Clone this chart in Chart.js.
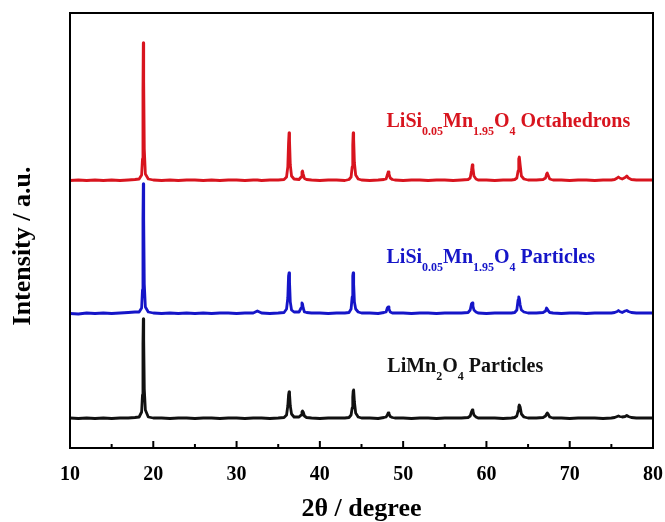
<!DOCTYPE html>
<html>
<head>
<meta charset="utf-8">
<script src="https://cdn.jsdelivr.net/npm/chart.js@4/dist/chart.umd.min.js"></script>
<style>
  body { margin: 0; background: #fff; }
</style>
</head>
<body>
<canvas id="xrdChart" width="665" height="522"></canvas>
<script>
// 2θ sample positions (shared by the three patterns)
const twoTheta = [
  10, 11, 12, 13, 14, 15, 16, 17, 17.8,
  18.3, 18.6, 18.7, 18.76, 18.8, 18.85, 18.92, 19.05, 19.4,
  20, 21, 22, 23, 24, 25, 26, 27, 28, 29, 30, 31, 32, 32.5, 33, 34, 35, 35.7,
  36.0, 36.15, 36.24, 36.3, 36.36, 36.45, 36.6, 36.9,
  37.5, 37.75, 37.85, 37.92, 38.0, 38.15, 38.4,
  39, 40, 41, 42, 43, 43.5,
  43.75, 43.88, 43.95, 44.0, 44.06, 44.15, 44.3, 44.6,
  45, 46, 47, 47.7,
  47.95, 48.1, 48.2, 48.3, 48.45, 48.7,
  49, 50, 51, 52, 53, 54, 55, 56, 57, 57.8,
  58.05, 58.2, 58.3, 58.38, 58.5, 58.75,
  59, 60, 61, 62, 63, 63.4,
  63.65, 63.8, 63.88, 63.95, 64.05, 64.2, 64.5,
  65, 66, 66.8,
  67.1, 67.22, 67.3, 67.4, 67.6,
  68, 69, 70, 71, 72, 73, 74, 75, 75.4,
  75.7, 75.85, 76.0, 76.3,
  76.65, 76.85, 77.05, 77.4,
  78, 79, 80
];

// intensities (a.u.)
const octahedronsI = [
  0.5, 1, 0.5, 1, 0.5, 1, 0.5, 1, 1.5,
  2, 6, 22, 90, 138, 100, 32, 7, 2,
  1, 0.5, 1, 0.5, 1, 1, 0.5, 1, 0.5, 1, 1, 0.5, 1, 1, 0.5, 1, 1, 1.5,
  4, 14, 38, 48, 40, 16, 5, 2,
  1.5, 4, 9, 10, 7, 2.5, 1.5,
  1, 0.5, 1, 1, 0.5, 1.5,
  4, 14, 36, 48, 42, 18, 6, 2,
  1, 0.5, 1, 1.5,
  2, 6, 9, 7, 3, 1.5,
  1, 0.5, 1, 1, 0.5, 1, 1, 0.5, 1, 1.5,
  3, 10, 16, 13, 5, 2,
  1, 1, 0.5, 1, 1, 1.5,
  3, 10, 22, 24, 16, 5, 2,
  1, 1, 1.5,
  3, 7, 8, 6, 2,
  1, 1, 0.5, 1, 1, 0.5, 1, 1, 1.5,
  3, 4, 3, 2,
  3.5, 5, 3, 1.5,
  1, 1, 1
];

const siParticlesI = [
  0.5, 0, 1, 0.5, 1, 0.5, 1, 1.5, 2,
  2, 6, 24, 95, 130, 95, 30, 7, 2,
  1, 0.5, 1, 0.5, 1, 0.5, 1, 0.5, 1, 1, 0.5, 1, 1, 3, 1, 0.5, 1, 1.5,
  5, 16, 38, 41, 32, 12, 4, 2,
  2, 6, 11, 10, 6, 2, 1.5,
  1, 1, 0.5, 1, 1, 1.5,
  5, 17, 38, 41, 30, 12, 5, 2,
  1, 1, 0.5, 1.5,
  2, 6, 7, 5, 2, 1,
  1, 1, 0.5, 1, 1, 0.5, 1, 1, 1, 1.5,
  4, 10, 11, 8, 4, 2,
  1, 0.5, 1, 1, 1, 1.5,
  4, 14, 17, 15, 9, 4, 2,
  1, 1, 1.5,
  3, 6, 5, 3.5, 1.5,
  1, 0.5, 1, 1, 0.5, 1, 1, 1, 1.5,
  2.5, 3.5, 2.5, 1.5,
  3, 3.5, 2.5, 1.5,
  1, 1, 1
];

const limn2o4I = [
  1, 0.5, 1, 0.5, 1, 0.5, 1, 1, 1.5,
  2, 7, 24, 75, 100, 80, 30, 9, 2,
  1, 1, 0.5, 1, 1, 0.5, 1, 1, 0.5, 1, 1, 0.5, 1, 1, 1, 0.5, 1, 1.5,
  4, 13, 24, 27, 25, 13, 5, 2,
  2, 4, 7, 8, 7, 3, 1.5,
  1, 0.5, 1, 1, 1, 1.5,
  4, 11, 22, 28, 29, 17, 6, 2,
  1, 1, 0.5, 1.5,
  2, 4, 6, 5, 2.5, 1.5,
  1, 1, 0.5, 1, 1, 0.5, 1, 1, 1, 1.5,
  3, 7, 9, 8, 4, 2,
  1, 1, 1, 0.5, 1, 1.5,
  3, 8, 12, 14, 12, 5, 2,
  1, 1, 1.5,
  3, 5, 6, 5, 2,
  1, 1, 0.5, 1, 1, 1, 0.5, 1, 1.5,
  2.5, 3, 2.5, 2,
  2.5, 3.5, 2.5, 1.5,
  1, 1, 1
];

// vertical stacking offsets: red, blue, black
const seriesOffsets = [267, 134, 29];
const seriesColors = ["#d8141e", "#1515c8", "#111111"];
const xTicksMajor = [10, 20, 30, 40, 50, 60, 70, 80];
const xTicksMinor = [15, 25, 35, 45, 55, 65, 75];

// in-plot labels: [2θ, y], and text pieces (sub = subscript)
const labelPositions = [[48, 321], [48, 185], [48.1, 76]];
const labelTexts = [
  [["LiSi"], ["0.05", 1], ["Mn"], ["1.95", 1], ["O"], ["4", 1], [" Octahedrons"]],
  [["LiSi"], ["0.05", 1], ["Mn"], ["1.95", 1], ["O"], ["4", 1], [" Particles"]],
  [["LiMn"], ["2", 1], ["O"], ["4", 1], [" Particles"]]
];

const serif = "'Liberation Serif', 'Times New Roman', serif";

function toPoints(values, offset) {
  return twoTheta.map((t, i) => ({ x: t, y: values[i] + offset }));
}

const framePlugin = {
  id: "frame",
  afterDraw(chart) {
    const ctx = chart.ctx;
    const area = chart.chartArea;
    const xs = chart.scales.x;
    const ys = chart.scales.y;
    ctx.save();
    ctx.strokeStyle = "#000";
    ctx.lineWidth = 2;
    ctx.strokeRect(area.left, area.top, area.right - area.left, area.bottom - area.top);

    // inward ticks on the bottom axis
    xTicksMajor.forEach((v) => {
      const px = xs.getPixelForValue(v);
      ctx.beginPath();
      ctx.moveTo(px, area.bottom);
      ctx.lineTo(px, area.bottom - 7);
      ctx.stroke();
    });
    xTicksMinor.forEach((v) => {
      const px = xs.getPixelForValue(v);
      ctx.beginPath();
      ctx.moveTo(px, area.bottom);
      ctx.lineTo(px, area.bottom - 4);
      ctx.stroke();
    });

    // y title
    ctx.fillStyle = "#000";
    ctx.font = "bold 26px " + serif;
    ctx.textAlign = "center";
    ctx.textBaseline = "middle";
    ctx.translate(23, 246);
    ctx.rotate(-Math.PI / 2);
    ctx.fillText("Intensity / a.u.", 0, 0);
    ctx.restore();

    // series labels
    ctx.save();
    ctx.textBaseline = "alphabetic";
    ctx.textAlign = "left";
    labelTexts.forEach((parts, i) => {
      let px = xs.getPixelForValue(labelPositions[i][0]);
      const py = ys.getPixelForValue(labelPositions[i][1]);
      ctx.fillStyle = seriesColors[i];
      parts.forEach(([txt, sub]) => {
        ctx.font = sub ? "bold 12px " + serif : "bold 20px " + serif;
        ctx.fillText(txt, px, sub ? py + 8 : py);
        px += ctx.measureText(txt).width;
      });
    });
    ctx.restore();
  }
};

const ctx = document.getElementById("xrdChart").getContext("2d");
new Chart(ctx, {
  type: "line",
  data: {
    datasets: [
      { label: "LiSi0.05Mn1.95O4 Octahedrons", data: toPoints(octahedronsI, seriesOffsets[0]) },
      { label: "LiSi0.05Mn1.95O4 Particles", data: toPoints(siParticlesI, seriesOffsets[1]) },
      { label: "LiMn2O4 Particles", data: toPoints(limn2o4I, seriesOffsets[2]) }
    ].map((ds, i) => ({
      ...ds,
      borderColor: seriesColors[i],
      borderWidth: 2.8,
      pointRadius: 0,
      tension: 0,
      borderJoinStyle: "round",
      fill: false
    }))
  },
  plugins: [framePlugin],
  options: {
    responsive: false,
    animation: false,
    devicePixelRatio: 1,
    layout: { padding: { top: 13, right: 12, left: 0, bottom: 0 } },
    plugins: { legend: { display: false }, tooltip: { enabled: false } },
    scales: {
      x: {
        type: "linear",
        min: 10,
        max: 80,
        grid: { display: false },
        border: { display: false },
        afterFit(scale) {
          scale.height = 74;
          scale.paddingLeft = 0;
          scale.paddingRight = 0;
        },
        ticks: {
          stepSize: 10,
          padding: 7,
          color: "#000",
          font: { family: serif, size: 20, weight: "bold" }
        },
        title: {
          display: true,
          text: "2θ / degree",
          color: "#000",
          padding: { top: 0, bottom: 0 },
          font: { family: serif, size: 26, weight: "bold", lineHeight: 1 }
        }
      },
      y: {
        min: 0,
        max: 435,
        grid: { display: false },
        border: { display: false },
        ticks: { display: false },
        afterFit(scale) { scale.width = 70; }
      }
    }
  }
});
</script>
</body>
</html>
